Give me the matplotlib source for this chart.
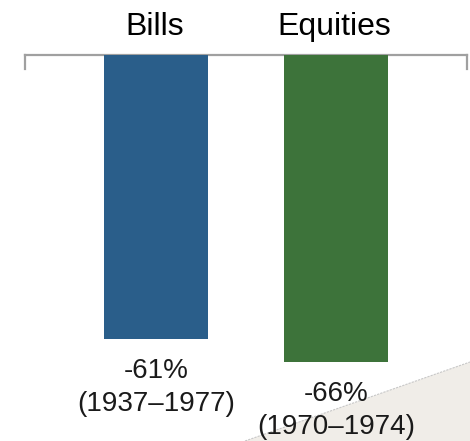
import numpy as np
import matplotlib
matplotlib.use('Agg')
import matplotlib.pyplot as plt
from matplotlib.patches import Polygon

plt.rcParams['font.family'] = ['Liberation Sans', 'DejaVu Sans']

# Data
categories = ['Bills', 'Equities']
drawdowns = [-61, -66]            # worst real drawdown, %
periods = ['(1937–1977)', '(1970–1974)']
colours = ['#2A5E8A', '#3D733A']

fig = plt.figure(figsize=(4.7, 4.41), dpi=100)
ax = fig.add_axes([25/470, 0.0, 442/470, 1 - 55/441])
ax.patch.set_visible(False)

x = np.arange(len(categories))
ax.bar(x, drawdowns, width=0.578, color=colours, zorder=3)

ax.set_xlim(-0.728, 1.728)
ax.set_ylim(-82.9, 0)

# axis line along the top with short end ticks
ax.spines['bottom'].set_visible(False)
for side in ['top', 'left', 'right']:
    ax.spines[side].set_color('#A0A0A0')
    ax.spines[side].set_linewidth(1.6)
ax.spines['left'].set_bounds(-3.0, 0)
ax.spines['right'].set_bounds(-3.0, 0)
ax.set_xticks([])
ax.set_yticks([])

# category labels above the axis line
for xi, cat in zip(x, categories):
    ax.annotate(cat, xy=(xi, 0), xytext=(-1, 14.4), textcoords='offset points',
                ha='center', va='baseline', fontsize=23, color='black')

# value labels under each bar
for xi, v, p in zip(x, drawdowns, periods):
    ax.annotate(f'{v}%', xy=(xi, v), xytext=(0, -28), textcoords='offset points',
                ha='center', va='baseline', fontsize=20, color='#1A1A1A', zorder=5)
    ax.annotate(p, xy=(xi, v), xytext=(0, -51.5), textcoords='offset points',
                ha='center', va='baseline', fontsize=20, color='#1A1A1A', zorder=5)

# decorative shaded corner in the background
corner = Polygon([(245/470, 0), (1, (441-362)/441), (1, 0)], closed=True,
                 transform=fig.transFigure, facecolor='#F0EDE8', edgecolor='none',
                 zorder=-2)
fig.patches.append(corner)
fig.add_artist(plt.Line2D([245/470, 1], [0, (441-362)/441], transform=fig.transFigure,
                          color='#C8C8C8', lw=0.8, ls=(0, (2, 1)), zorder=-1))

plt.savefig('out.png', dpi=100)
